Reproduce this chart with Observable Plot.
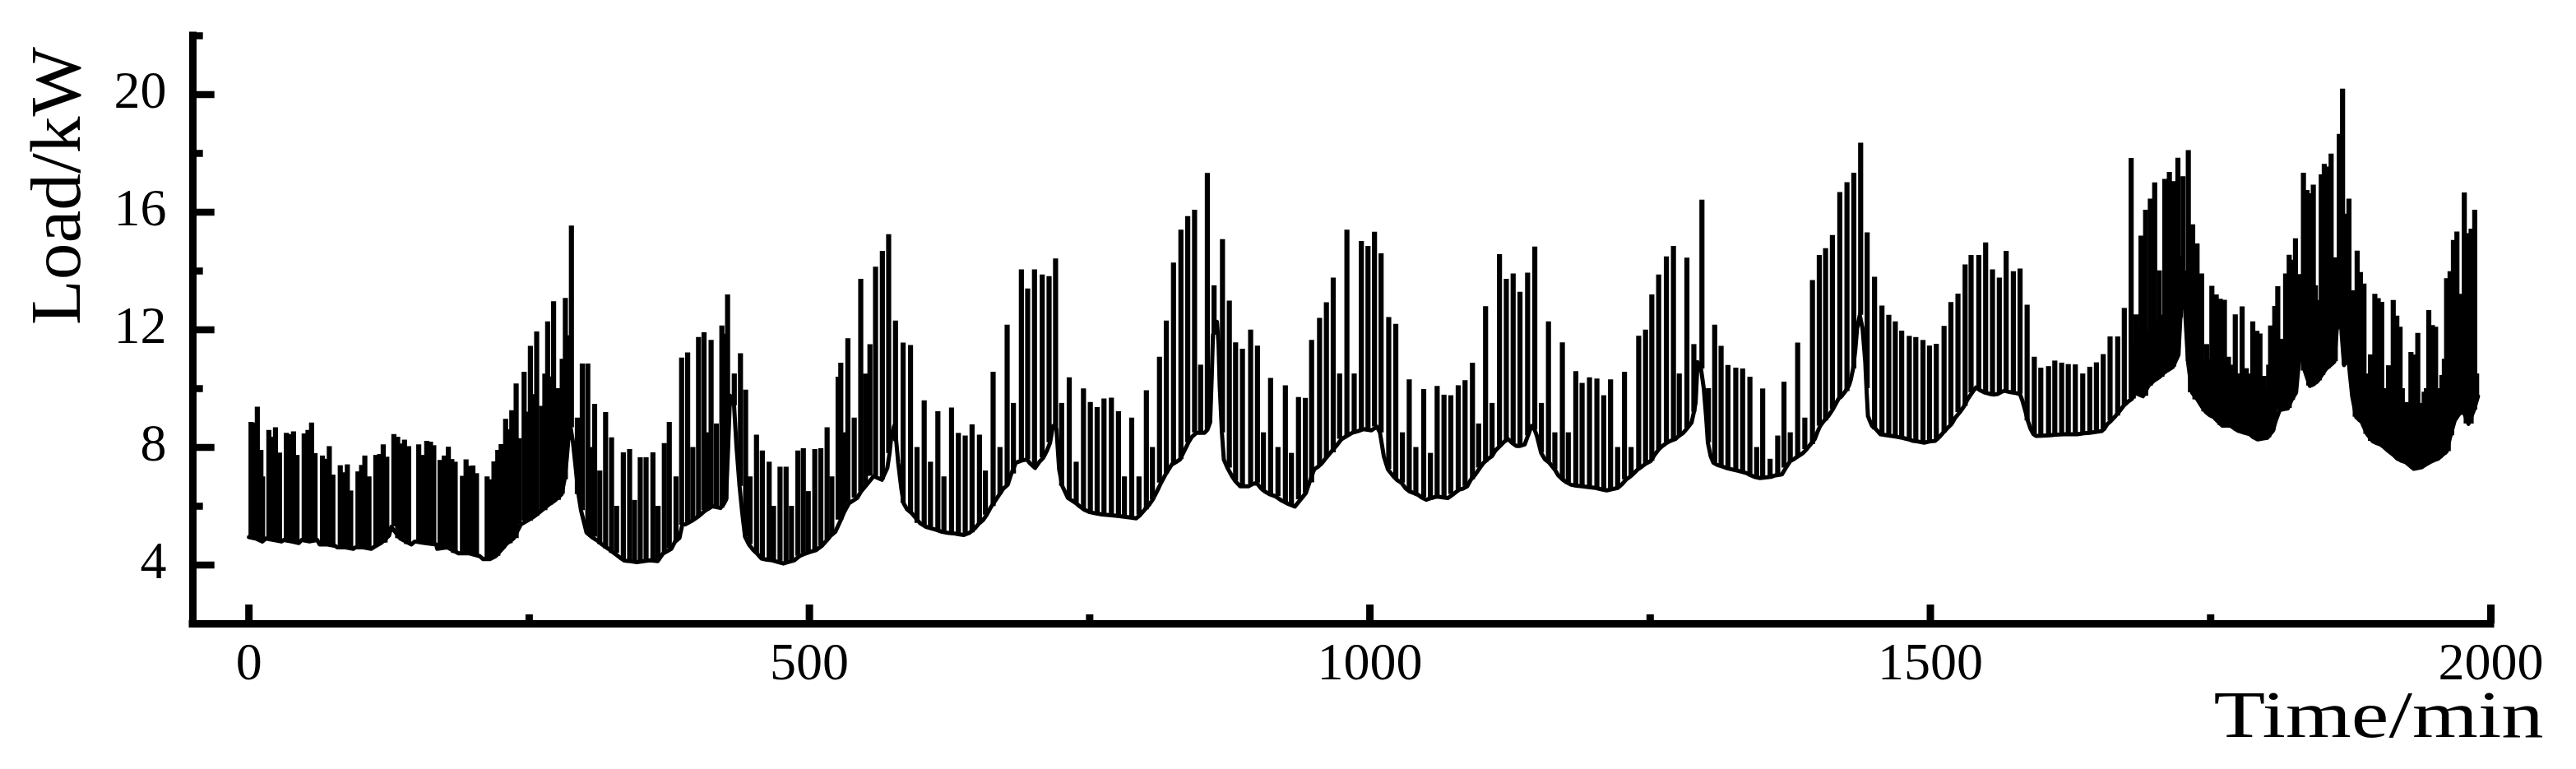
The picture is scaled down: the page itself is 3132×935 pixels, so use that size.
<!DOCTYPE html>
<html><head><meta charset="utf-8">
<script src="https://cdn.jsdelivr.net/npm/d3@7"></script>
<script src="https://cdn.jsdelivr.net/npm/@observablehq/plot@0.6"></script>
<style>html,body{margin:0;padding:0;background:#fff;overflow:hidden}</style>
</head><body><div id="chart"></div>
<script>
const xTicks = [0, 500, 1000, 1500, 2000];
const xMinorTicks = [250, 750, 1250, 1750];
const yTicks = [4, 8, 12, 16, 20];
const yMinorTicks = [6, 10, 14, 18, 22];
const xTitle = "Time/min";
const yTitle = "Load/kW";

// lower envelope of the load curve: [minute, kW]
const baseline = [
[0,4.95],[6,4.9],[12,4.8],[15,4.9],[22,4.85],[29,4.8],[31,4.85],[38,4.8],[44.5,4.75],[47,4.85],[54,4.8],[61,4.85],[63,4.7],[70,4.7],[77,4.65],[79,4.6],[86,4.6],[93,4.55],[95,4.6],[102,4.6],[109,4.55],[111,4.6],[118,4.75],[125,5.0],[127,5.3],[135,4.9],[145,4.7],[148,4.8],[157,4.75],[167,4.7],[168,4.55],[177,4.6],[187,4.4],[196,4.4],[206,4.3],[209,4.2],[215,4.2],[220,4.3],
[226,4.55],[230,4.73],[236,4.9],[242.6,5.38],[248,5.5],[254.8,5.66],[261,5.85],[267,6.04],[273,6.2],[279,6.41],[281.5,6.9],[283.5,7.6],[285.5,8.5],[287,8.67],[289,8.2],[291.4,7.34],[294,6.4],[296.3,5.85],[301.2,5.1],[306,4.95],[310.9,4.83],[315,4.7],[320.7,4.55],[326,4.4],[330.4,4.27],[335,4.15],[340.2,4.13],[346,4.1],[352.4,4.13],[358,4.16],[364.6,4.13],[369.4,4.39],[376.8,4.55],[380,4.79],[384.1,4.92],[386.5,5.36],[389,5.38],[395,5.5],[401.2,5.66],[407,5.85],[413.4,6.0],[420.7,5.94],[424,6.1],[425.6,6.22],[427.5,8.0],[429.2,9.76],[431,9.6],[432.8,9.42],[435,8.0],[437.7,6.68],[440,5.8],[442.6,4.96],[446,4.7],[449.9,4.51],[453,4.4],[457.2,4.22],[462,4.18],[467,4.16],[472,4.1],[476.8,4.05],[481,4.1],[486.5,4.16],[491,4.3],[496.3,4.39],[501,4.45],[506.1,4.51],[511,4.65],[515.8,4.85],[519,5.0],[523.1,5.13],[528,5.53],[531,5.8],[535.3,6.1],[542.6,6.28],[546,6.5],[550,6.68],[557.3,7.02],[564.6,6.9],[569.5,7.3],[571.5,7.8],[573.1,8.39],[575.6,8.73],[577.5,8.2],[579.2,7.48],[582,6.6],[584.1,6.1],[587,5.9],[591.4,5.76],[598.8,5.42],[604,5.3],[608.5,5.25],[613,5.2],[618.3,5.13],[623,5.1],[628,5.08],[633,5.05],[637.8,5.02],[643,5.1],[647.6,5.25],[651,5.4],[654.9,5.53],[658,5.7],[662.2,5.99],[666,6.2],[669.5,6.4],[673,6.6],[676.9,6.73],[680,7.1],[684.2,7.48],[689,7.55],[694,7.59],[697,7.45],[701.3,7.3],[705,7.5],[708.6,7.65],[712,7.9],[714.7,8.16],[717.2,8.73],[720.4,8.62],[722.8,7.25],[725.7,6.68],[730.6,6.28],[734,6.2],[737.9,6.1],[741,6.0],[745.2,5.88],[750,5.8],[755,5.76],[761,5.72],[767.2,5.7],[773,5.68],[779.4,5.65],[785,5.62],[791.6,5.59],[795,5.7],[799,5.88],[803,6.05],[806.2,6.22],[810,6.5],[813.6,6.79],[818,7.1],[823.3,7.42],[827,7.5],[830.6,7.59],[834,7.85],[838,8.16],[841,8.35],[845.3,8.5],[849,8.5],[852.6,8.5],[855,8.6],[857.5,8.85],[859,10.5],[860,11.82],[862,12.1],[863.6,12.27],[865,11.5],[866,10.1],[868,8.5],[869.7,7.59],[873,7.3],[877,7.02],[880,6.85],[884.3,6.68],[888,6.68],[891.6,6.68],[895,6.75],[899,6.79],[903,6.6],[906.3,6.5],[911,6.4],[916,6.33],[921,6.2],[925.8,6.1],[929,6.05],[933.1,5.99],[938,6.22],[942.9,6.45],[946,6.8],[950.2,7.25],[954,7.35],[957.5,7.48],[961,7.65],[964.8,7.82],[970,8.05],[974.6,8.28],[980,8.4],[984.4,8.5],[989,8.55],[994.1,8.62],[1001.4,8.58],[1006.3,8.7],[1009,8.5],[1012.4,7.7],[1016.1,7.25],[1020.9,7.02],[1024,6.9],[1028.3,6.79],[1032,6.6],[1035.6,6.5],[1039,6.45],[1042.9,6.39],[1046,6.3],[1050.2,6.22],[1055,6.28],[1060,6.33],[1065,6.3],[1069.7,6.28],[1074,6.4],[1079.5,6.56],[1083,6.6],[1086.8,6.68],[1090,6.9],[1094.1,7.08],[1098,7.3],[1101.5,7.48],[1105,7.6],[1108.8,7.7],[1112,7.9],[1116.1,8.05],[1120,8.2],[1123.4,8.28],[1127,8.15],[1130.7,8.05],[1134,8.05],[1138.1,8.1],[1141,8.4],[1144.2,8.73],[1147,8.6],[1149,8.39],[1152.7,7.82],[1156,7.6],[1160,7.48],[1164.9,7.25],[1168,7.05],[1172.2,6.9],[1176,6.8],[1179.5,6.73],[1184,6.7],[1189.3,6.68],[1195,6.65],[1201.5,6.62],[1206,6.58],[1211.3,6.54],[1216,6.58],[1221,6.62],[1225,6.75],[1228.3,6.9],[1232,7.0],[1235.7,7.13],[1239,7.25],[1243,7.36],[1246,7.45],[1250.3,7.53],[1254,7.75],[1257.6,7.93],[1261,8.05],[1265,8.16],[1268,8.22],[1272.3,8.28],[1276,8.4],[1279.6,8.5],[1283,8.65],[1287,8.85],[1289,9.2],[1290.6,9.53],[1292.3,10.9],[1294,10.8],[1295.4,10.67],[1297.9,9.99],[1300,9.0],[1301.5,8.16],[1304,7.7],[1306.4,7.48],[1310,7.4],[1313.7,7.36],[1318,7.3],[1323.5,7.25],[1329,7.2],[1335.7,7.13],[1338.2,7.08],[1343,7.0],[1348,6.96],[1353,6.98],[1357.7,7.0],[1362,7.05],[1367.5,7.08],[1371,7.3],[1374.8,7.53],[1378,7.6],[1382.1,7.7],[1386,7.8],[1389.4,7.93],[1393,8.1],[1396.8,8.28],[1399,8.5],[1401.6,8.73],[1405,8.9],[1409,9.07],[1413,9.3],[1416.3,9.53],[1418,9.65],[1421.2,9.76],[1424,9.9],[1427.3,10.1],[1429,10.3],[1431,10.67],[1433,11.3],[1434.6,12.04],[1437,12.5],[1439.5,12.04],[1441.9,10.9],[1443,10.0],[1444.3,9.07],[1446,8.9],[1448,8.73],[1452,8.6],[1455.3,8.45],[1460,8.42],[1465.1,8.39],[1470,8.36],[1474.8,8.33],[1480,8.28],[1484.6,8.22],[1489,8.2],[1494.4,8.16],[1499,8.2],[1504.1,8.22],[1508,8.35],[1511.4,8.5],[1515,8.65],[1518.8,8.79],[1522,9.0],[1526.1,9.19],[1530,9.4],[1533.4,9.65],[1537,9.85],[1540.7,10.04],[1544,9.95],[1548.1,9.87],[1552.9,9.82],[1556,9.8],[1560.2,9.82],[1563,9.88],[1566.3,9.93],[1569,9.9],[1572.4,9.87],[1576,9.85],[1579.8,9.82],[1582,9.6],[1584.6,9.25],[1587,8.9],[1589.5,8.62],[1592,8.45],[1594.4,8.39],[1600,8.4],[1606.6,8.41],[1612,8.43],[1618.8,8.45],[1625,8.45],[1631,8.45],[1637,8.48],[1643.2,8.5],[1648,8.53],[1653,8.56],[1655.5,8.65],[1657.8,8.79],[1661,8.9],[1665.2,9.07],[1669,9.25],[1672.5,9.42],[1676,9.55],[1679.8,9.65],[1682.2,9.86],[1686,9.8],[1689.6,9.74],[1694.4,10.09],[1699.3,10.27],[1704.2,10.39],[1709.1,10.56],[1716.4,10.74],[1721.3,11.15],[1723,12.4],[1725,13.74],[1727,12.8],[1729.8,10.92],[1733.5,9.86],[1738.4,9.62],[1742,9.4],[1745.7,9.21],[1749,9.1],[1753,9.03],[1756,8.9],[1760.3,8.74],[1764,8.74],[1767.6,8.74],[1771,8.65],[1775,8.56],[1780,8.5],[1784.7,8.45],[1788,8.35],[1792,8.27],[1796,8.3],[1800.6,8.33],[1803,8.45],[1805.5,8.56],[1808,8.9],[1811.6,9.27],[1815,9.3],[1818.9,9.33],[1822,9.6],[1826.2,9.86],[1828,10.6],[1829.9,11.27],[1831.1,11.27],[1834,10.6],[1838.5,10.09],[1842,10.15],[1845.8,10.27],[1849,10.45],[1853.1,10.68],[1857,10.8],[1860.4,10.92],[1862.5,12.0],[1865.3,13.04],[1867,11.8],[1869,10.8],[1872.6,11.15],[1874.5,10.4],[1876.3,9.74],[1879.9,9.03],[1884.8,8.86],[1889.7,8.45],[1894.6,8.21],[1898,8.15],[1901.9,8.09],[1905,8.0],[1909.2,7.86],[1913,7.75],[1916.5,7.62],[1920,7.55],[1923.9,7.5],[1927,7.4],[1931.2,7.27],[1935,7.3],[1938.5,7.33],[1942,7.42],[1945.8,7.5],[1949,7.56],[1953.1,7.62],[1957,7.75],[1960.5,7.86],[1964,8.4],[1967.8,8.92],[1971,9.1],[1975.1,9.27],[1980,8.8],[1984.9,9.27],[1988.5,9.74]
];

// spike tops of the load curve: [minute, kW]
const spikes = [
[1.9,8.85],[3.2,8.0],[4.6,8.83],[6.0,7.6],[7.5,9.37],[9.1,7.2],[10.7,7.9],[12.2,7.0],
[17.8,8.58],[19.4,7.6],[21.0,8.35],[22.4,7.4],[23.7,8.67],[25.5,7.2],[27.3,7.81],
[33.4,8.48],[35.0,7.5],[36.8,8.44],[38.3,7.3],[39.8,8.53],[41.4,7.3],[42.9,7.73],
[49.3,8.46],[51.0,7.8],[52.7,8.58],[54.3,7.4],[55.9,8.83],[57.5,7.2],[59.0,7.79],
[65.6,7.71],[67.2,6.9],[68.8,7.6],[70.2,6.8],[71.7,8.03],[73.3,6.8],[74.9,7.06],
[81.5,7.38],[83.1,6.7],[84.7,7.14],[86.2,6.5],[87.8,7.41],[89.3,6.5],[90.8,6.52],
[97.3,7.17],[99.0,6.8],[100.5,7.39],[102.0,6.6],[103.4,7.71],[105.2,6.9],[107.1,7.0],
[113.2,7.73],[115.0,7.0],[116.6,7.76],[118.2,7.0],[119.8,8.09],[121.5,7.3],[123.0,7.67],
[129.3,8.44],[131.0,7.6],[132.7,8.35],[134.3,7.5],[135.9,8.12],[137.4,7.4],[138.8,8.25],[140.6,7.2],[142.5,8.03],
[151.5,8.09],[153.1,7.2],[154.7,7.73],[156.7,7.0],[158.6,8.21],[160.4,7.4],[162.0,8.18],[163.5,7.2],[164.9,8.06],
[170.5,7.56],[172.4,6.9],[174.2,7.71],[176.0,7.0],[177.9,8.01],[179.5,7.0],[181.0,7.59],[182.5,6.8],[184.0,7.5],
[190.5,7.02],[192.1,6.6],[193.7,7.58],[195.1,6.8],[196.6,7.36],[198.2,6.6],[199.8,7.37],[201.4,6.5],[203.0,7.11],
[212.5,7.0],[214.1,6.3],[215.7,6.9],[217.2,6.5],[218.6,7.51],[220.3,6.8],[222.0,7.9],[223.5,7.0],[225.0,8.1],[226.8,7.4],
[229,8.96],[230.3,7.8],[231.6,8.6],[233,7.8],[234.5,9.25],[236.5,8.0],[238.4,10.16],[241,8.3],[245.5,10.56],[248.5,9.2],[251.1,11.44],[253.8,9.8],[256.7,11.93],[261,9.4],[264,10.5],[266.5,12.27],[269,10.4],[271.8,12.96],[276,10.0],[279.5,11.0],[282.3,13.07],[285,11.8],[287.7,15.53],[293,9.0],[297.4,10.84],[302.3,10.84],[305,8.0],[308.4,9.47],[313,7.2],[318.2,9.19],[323.5,8.33],[328,6.0],[334,7.82],[339.6,7.93],[344,6.2],[349.1,7.65],[354.3,7.65],[360.4,7.82],[365,6.0],[370.6,8.13],[375,8.85],[381,7.0],[386,11.04],[391.4,11.22],[396,8.0],[401.1,11.74],[406,11.9],[409,8.5],[412.3,11.64],[417,8.8],[421.9,12.13],[425.5,11.85],[427,13.19],[433,10.5],[438.5,11.19],[443.1,9.95],[447,7.0],[452.8,8.42],[458,7.88],[464.1,7.5],[468,6.0],[473.8,7.33],[479.2,7.33],[484,6.0],[489.7,7.88],[494.6,7.96],[499,6.5],[504.8,7.93],[510.2,7.96],[515.8,8.67],[520,7.0],[525.6,10.39],[528,10.87],[531,8.5],[534.3,11.7],[540,9.0],[545.8,13.72],[550,10.5],[554,11.5],[559,14.13],[565.1,14.67],[570.7,15.24],[576.8,12.3],[583.6,11.55],[590.2,11.47],[596,8.0],[602.4,9.59],[608,7.5],[614.6,9.22],[620,7.0],[626.8,9.34],[632.9,8.48],[639,8.39],[645.1,8.77],[651.7,8.42],[657,7.2],[663.9,10.56],[670,8.0],[676.4,12.16],[682,9.5],[689.1,14.04],[694.7,13.39],[700.8,14.04],[707.7,13.87],[713.8,13.81],[719.6,14.41],[725,9.5],[731.8,10.37],[738,7.5],[744.5,9.99],[750.6,9.53],[756.7,9.36],[762.8,9.65],[769.4,9.68],[775.7,9.22],[781,7.0],[787.5,9.0],[794,7.0],[800.6,9.93],[806,8.0],[812.3,11.07],[818.4,12.3],[824.8,14.27],[831.4,15.39],[837.5,15.85],[843.6,16.07],[849,10.8],[855,17.32],[861,13.5],[868.5,15.07],[874.6,12.98],[880.2,11.56],[886.3,11.34],[893.6,11.99],[899.7,11.45],[905,8.5],[911.4,10.35],[918,8.0],[924.6,10.1],[930,7.8],[936.3,9.7],[942.4,9.67],[948,11.64],[955.1,12.39],[961.2,12.92],[967.3,13.76],[973,10.5],[979.5,15.39],[986,10.5],[992.4,15.01],[998.3,14.84],[1004.1,15.32],[1010,14.59],[1016.8,12.42],[1023.1,12.19],[1029,8.5],[1035.1,10.3],[1041,8.0],[1048,9.97],[1054,7.8],[1060,10.08],[1066.1,9.78],[1072.2,9.76],[1078.8,10.1],[1084.9,10.27],[1091.5,10.87],[1097,8.8],[1103.2,12.79],[1109,9.5],[1115.6,14.56],[1121.7,13.72],[1127.8,13.9],[1133.9,13.28],[1140.7,13.93],[1147.1,14.82],[1153,9.5],[1159.3,12.27],[1165,8.5],[1171.7,11.56],[1177,8.5],[1183.7,10.58],[1189.3,10.18],[1195.9,10.37],[1202.5,10.33],[1208.6,9.76],[1214.7,10.3],[1221,8.0],[1227.1,10.56],[1233,8.0],[1239.8,11.78],[1245.9,11.99],[1251.5,13.19],[1257.6,13.87],[1264.5,14.48],[1270.8,14.84],[1276,10.5],[1282.8,14.44],[1289,11.5],[1296.2,16.41],[1302,10.0],[1307.6,12.16],[1313.3,11.44],[1319.4,10.79],[1326.4,10.7],[1332.5,10.67],[1339,10.39],[1345,8.0],[1350.4,9.99],[1357,7.6],[1363.8,8.39],[1369.4,10.22],[1375,8.5],[1381.6,11.55],[1388,9.0],[1394.8,13.68],[1400.9,14.53],[1406.5,14.76],[1412.6,15.21],[1419.2,16.67],[1425.6,17.01],[1431.7,17.33],[1437.8,18.35],[1443.6,15.3],[1450.2,13.79],[1456.8,12.81],[1462.9,12.5],[1468.7,12.27],[1474.4,11.96],[1481.2,11.78],[1487,11.74],[1493.4,11.64],[1499.2,11.45],[1505.3,11.51],[1512.2,12.12],[1518.3,12.93],[1524.6,13.22],[1531,14.21],[1536.3,14.53],[1543.2,14.53],[1549.3,14.96],[1555.4,14.04],[1561.5,13.76],[1567.6,14.67],[1574,13.98],[1580,14.07],[1586.3,12.84],[1592.7,11.07],[1598.5,10.7],[1605.4,10.75],[1611,10.94],[1617.1,10.87],[1623,10.82],[1629.3,10.81],[1635.9,10.5],[1642.2,10.73],[1648.1,10.88],[1654.2,11.16],[1660.3,11.76],[1667.1,11.76],[1673,12.73],[1679.1,17.83],
[1681,11.5],[1683.5,12.51],[1686,12.0],[1687.9,15.19],[1690,12.5],[1692,16.07],[1694,12.0],[1696.2,16.45],[1698,12.5],[1700.1,17.0],[1702,12.3],[1704.2,14.01],[1706.5,12.5],[1709.1,17.12],[1711,12.8],[1713.2,17.36],[1715,13.0],[1717.1,17.04],[1719,13.0],[1720.8,17.84],[1723,14.5],[1725.4,17.21],[1727.5,14.0],[1730.1,18.1],[1732,13.0],[1734,15.57],[1736,12.5],[1737.9,14.92],[1740,12.0],[1742,13.9],[1744,11.0],[1746.5,11.5],[1749,11.0],[1751.1,13.48],[1753,11.0],[1755,13.19],[1757,11.2],[1758.6,13.04],[1760.5,11.0],[1762.3,13.01],[1764,10.5],[1765.9,11.07],[1768,10.2],[1770,10.8],[1772,12.51],[1774,10.5],[1776,10.5],[1778.1,12.78],[1780,10.3],[1781.8,10.68],[1784,10.0],[1785.8,10.5],[1787.6,12.27],[1789.5,10.5],[1791.3,11.95],[1794,11.86],[1796,10.0],[1797.7,10.42],[1800,10.0],[1801.8,10.8],[1803.5,12.13],[1805.5,11.0],[1807.2,12.8],[1809.9,13.47],[1812,11.5],[1814,11.68],[1816.9,13.9],[1818.5,12.0],[1820.1,14.54],[1821.6,12.5],[1823,14.37],[1825.7,15.1],[1827.5,12.5],[1829.4,13.88],[1831,12.5],[1832.8,17.33],[1834.5,13.0],[1836,16.74],[1837.5,13.5],[1839.1,16.63],[1841.6,16.92],
[1843.5,13.5],[1845.5,12.5],[1847,13.0],[1848.7,17.27],[1850,13.5],[1851.4,17.63],[1853,13.5],[1854.8,17.54],[1856,14.0],[1857.5,17.98],[1859.5,13.0],[1861.2,14.45],[1863,14.0],[1864.8,18.65],[1867.7,20.19],[1869.2,14.5],[1870.7,15.94],[1872,14.0],[1873.4,16.45],[1875,13.0],[1877,13.33],[1879,12.0],[1880.7,14.68],[1882,12.0],[1883.6,13.95],[1885,11.5],[1886.8,13.56],[1888.5,10.5],[1890.5,10.0],[1892.6,11.15],[1894.5,10.0],[1896.5,13.21],[1898,11.0],[1899.5,13.06],[1901,10.5],[1902.6,12.94],[1904.5,10.0],[1906.5,9.5],[1908.7,10.78],[1911,10.0],[1912.9,13.0],[1914.5,10.5],[1916.1,12.47],[1917.5,10.5],[1919,12.09],[1921,10.0],[1923,9.0],[1924.6,9.53],[1926.5,9.5],[1928.7,11.23],[1930.3,10.0],[1931.9,11.15],[1933.3,10.0],[1934.8,11.88],[1936.5,9.5],[1938.5,9.0],[1940.5,9.88],[1942.5,10.0],[1944.6,12.66],[1946.2,10.5],[1947.8,12.15],[1949.3,10.5],[1950.7,12.09],[1952.5,10.0],[1954.5,9.5],[1956.3,10.45],[1958.5,11.0],[1960.5,13.74],[1962,11.5],[1963.6,13.98],[1965,12.0],[1966.6,15.04],[1968.2,12.5],[1969.7,15.33],[1971.2,12.0],[1972.7,13.21],[1974.5,12.0],[1976.3,16.66],[1978,12.0],[1980,15.27],[1982.4,15.43],[1984,11.5],[1985.6,16.07],[1987.3,10.5]
];

// each spike rises from the nearest baseline reading to its top
const baseTimes = baseline.map(d => d[0]);
const baseRows = baseline.map(([t, v]) => ({t, v}));
const spikeRows = spikes.map(([t, v]) => ({t, v, foot: baseline[d3.leastIndex(baseTimes, b => Math.abs(b - t))][1]}));

const W = 3132, H = 935, mL = 234, mR = 104, mT = 43, mB = 177;
const pw = W - mL - mR, ph = H - mT - mB;

const svg = Plot.plot({
  width: W, height: H,
  marginLeft: mL, marginRight: mR, marginTop: mT, marginBottom: mB,
  style: {fontFamily: "'Liberation Serif','Times New Roman',serif", fontSize: "64px", color: "#000", background: "#fff"},
  x: {domain: [-50, 2000]},
  y: {domain: [2, 22]},
  marks: [
    Plot.line(baseRows, {x: "t", y: "v", stroke: "#000", strokeWidth: 5, strokeLinejoin: "round"}),
    Plot.ruleX(spikeRows, {x: "t", y1: "foot", y2: "v", stroke: "#000", strokeWidth: 6.2, strokeLinecap: "butt"}),
    Plot.ruleX([-50], {stroke: "#000", strokeWidth: 9, strokeLinecap: "square"}),
    Plot.ruleY([2], {stroke: "#000", strokeWidth: 9, strokeLinecap: "square"}),
    Plot.tickY(yTicks, {y: d => d, stroke: "#000", strokeWidth: 8.5, insetRight: pw - 26.7}),
    Plot.tickY(yMinorTicks, {y: d => d, stroke: "#000", strokeWidth: 8.5, insetRight: pw - 12.7}),
    Plot.tickX(xTicks, {x: d => d, stroke: "#000", strokeWidth: 9, insetTop: ph - 23}),
    Plot.tickX(xMinorTicks, {x: d => d, stroke: "#000", strokeWidth: 9, insetTop: ph - 11}),
    Plot.axisY(yTicks, {tickSize: 0, tickPadding: 32, label: null, dy: -4, tickFormat: d => String(d)}),
    Plot.axisX(xTicks, {tickSize: 0, tickPadding: 22, label: null, tickFormat: d => String(d)}),
    Plot.text([xTitle], {text: d => d, frameAnchor: "bottom-right", textAnchor: "end", lineAnchor: "bottom", dx: 64, dy: 137, fontSize: 80}),
    Plot.text([yTitle], {text: d => d, frameAnchor: "top-left", textAnchor: "middle", lineAnchor: "bottom", rotate: -90, dx: -138, dy: 182.5, fontSize: 86})
  ]
});

d3.select(svg).selectAll("text").each(function() {
  const s = this.textContent;
  if (s === xTitle) d3.select(this).attr("textLength", 401).attr("lengthAdjust", "spacingAndGlyphs");
  if (s === yTitle) d3.select(this).attr("textLength", 338).attr("lengthAdjust", "spacingAndGlyphs");
});

document.getElementById("chart").appendChild(svg);
</script>
</body></html>
